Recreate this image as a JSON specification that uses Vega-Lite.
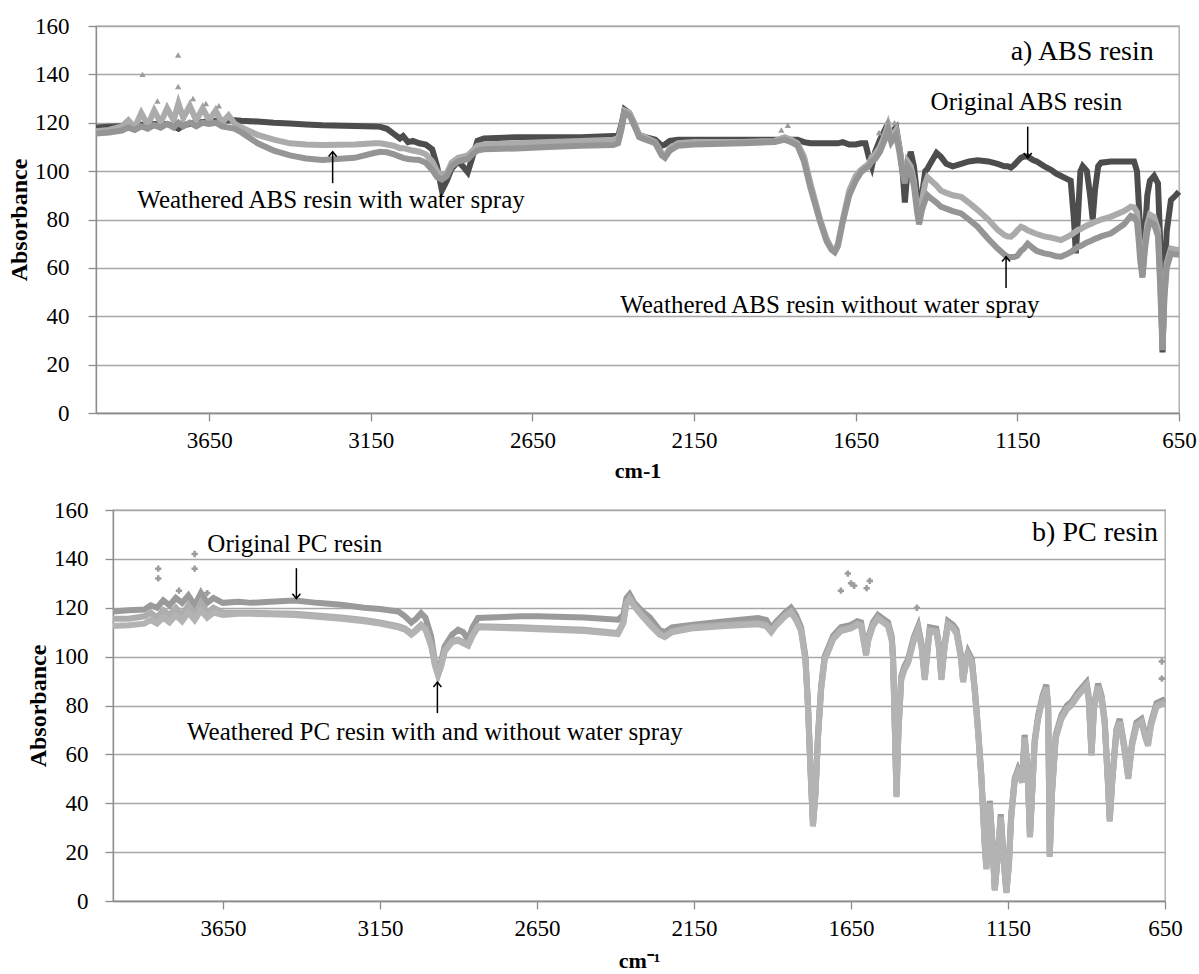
{
  "$schema": "https://vega.github.io/schema/vega-lite/v6.json",
  "padding": {"top": 14, "left": 6, "right": 2, "bottom": 2},
  "background": "white",
  "config": {
    "font": "Liberation Serif",
    "view": {"stroke": "#a6a6a6", "strokeWidth": 1.3},
    "axis": {
      "labelFont": "Liberation Serif", "labelFontSize": 23, "labelColor": "#000",
      "titleFont": "Liberation Serif", "titleFontSize": 24, "titleFontWeight": "bold", "titleColor": "#000",
      "domainColor": "#8c8c8c", "domainWidth": 1.3, "tickColor": "#8c8c8c", "tickWidth": 1.3, "tickSize": 8,
      "gridColor": "#a6a6a6", "gridWidth": 1.3
    }
  },
  "datasets": {
    "abs": [
      {"wn":4000,"Original":118,"With":116.5,"Without":115.5},
      {"wn":3960,"Original":118.3,"With":117,"Without":116},
      {"wn":3920,"Original":118.6,"With":118.5,"Without":116.8},
      {"wn":3900,"Original":118.8,"With":121,"Without":118},
      {"wn":3880,"Original":119,"With":118,"Without":117},
      {"wn":3860,"Original":119.2,"With":124,"Without":118.5},
      {"wn":3840,"Original":119.3,"With":119,"Without":117.5},
      {"wn":3820,"Original":119.5,"With":125,"Without":119},
      {"wn":3800,"Original":119.5,"With":120,"Without":118},
      {"wn":3780,"Original":119.5,"With":126,"Without":119.5},
      {"wn":3760,"Original":118.5,"With":121,"Without":118},
      {"wn":3745,"Original":117.5,"With":128,"Without":120},
      {"wn":3730,"Original":119,"With":122,"Without":118.5},
      {"wn":3710,"Original":119.5,"With":127,"Without":120},
      {"wn":3690,"Original":120,"With":121,"Without":118.5},
      {"wn":3670,"Original":120.3,"With":126,"Without":120},
      {"wn":3650,"Original":120.5,"With":121,"Without":119.5},
      {"wn":3630,"Original":120.8,"With":125,"Without":120},
      {"wn":3610,"Original":121,"With":120,"Without":118.5},
      {"wn":3590,"Original":121,"With":123,"Without":118},
      {"wn":3570,"Original":121,"With":119.5,"Without":117.5},
      {"wn":3550,"Original":120.8,"With":118,"Without":116},
      {"wn":3500,"Original":120.5,"With":115,"Without":111.5},
      {"wn":3450,"Original":120,"With":113,"Without":108.5},
      {"wn":3400,"Original":119.7,"With":111.5,"Without":106.5},
      {"wn":3350,"Original":119.3,"With":111,"Without":105.2},
      {"wn":3300,"Original":119,"With":110.8,"Without":104.6},
      {"wn":3200,"Original":118.7,"With":111,"Without":105.5},
      {"wn":3140,"Original":118.5,"With":111.5,"Without":107.5},
      {"wn":3120,"Original":118.3,"With":111.5,"Without":108},
      {"wn":3100,"Original":117.5,"With":111,"Without":107.8},
      {"wn":3080,"Original":115.5,"With":110.5,"Without":107},
      {"wn":3060,"Original":113.5,"With":109.5,"Without":106},
      {"wn":3050,"Original":114.5,"With":109.5,"Without":105.5},
      {"wn":3035,"Original":112,"With":109,"Without":105},
      {"wn":3020,"Original":112.5,"With":108.5,"Without":104.8},
      {"wn":3000,"Original":111.5,"With":108,"Without":104.6},
      {"wn":2980,"Original":111,"With":107,"Without":103.5},
      {"wn":2960,"Original":109,"With":104,"Without":100.5},
      {"wn":2945,"Original":102,"With":100,"Without":97.5},
      {"wn":2930,"Original":92,"With":98,"Without":96.5},
      {"wn":2915,"Original":96,"With":99,"Without":98},
      {"wn":2900,"Original":101,"With":103.5,"Without":102},
      {"wn":2880,"Original":104,"With":105.5,"Without":104},
      {"wn":2865,"Original":102,"With":106,"Without":104.5},
      {"wn":2850,"Original":99.5,"With":106.5,"Without":105},
      {"wn":2835,"Original":106,"With":108.5,"Without":107},
      {"wn":2820,"Original":112.5,"With":110.5,"Without":108.5},
      {"wn":2800,"Original":113.5,"With":111,"Without":109},
      {"wn":2700,"Original":114,"With":111.5,"Without":109.4},
      {"wn":2600,"Original":114,"With":112,"Without":110},
      {"wn":2500,"Original":114,"With":112.5,"Without":110.5},
      {"wn":2400,"Original":114.5,"With":113,"Without":110.8},
      {"wn":2385,"Original":114.5,"With":113.5,"Without":111.5},
      {"wn":2375,"Original":119,"With":118,"Without":117},
      {"wn":2365,"Original":125.5,"With":125,"Without":124},
      {"wn":2350,"Original":124,"With":124,"Without":123},
      {"wn":2335,"Original":119,"With":120,"Without":119},
      {"wn":2320,"Original":115,"With":115,"Without":114},
      {"wn":2300,"Original":114,"With":114,"Without":113},
      {"wn":2270,"Original":113,"With":112,"Without":111.5},
      {"wn":2250,"Original":110.5,"With":107.5,"Without":106.5},
      {"wn":2240,"Original":111,"With":106,"Without":105.5},
      {"wn":2225,"Original":112.5,"With":109.5,"Without":108.5},
      {"wn":2200,"Original":113,"With":111.5,"Without":110.5},
      {"wn":2150,"Original":113,"With":112,"Without":111},
      {"wn":2000,"Original":113,"With":112,"Without":111.5},
      {"wn":1900,"Original":113,"With":112.5,"Without":112},
      {"wn":1870,"Original":113,"With":114,"Without":113},
      {"wn":1850,"Original":113,"With":113,"Without":112},
      {"wn":1830,"Original":113,"With":111.5,"Without":110.5},
      {"wn":1810,"Original":112,"With":106,"Without":104},
      {"wn":1790,"Original":111.5,"With":95,"Without":93},
      {"wn":1760,"Original":111.5,"With":80,"Without":79},
      {"wn":1740,"Original":111.5,"With":72,"Without":71},
      {"wn":1725,"Original":111.5,"With":68,"Without":67.5},
      {"wn":1715,"Original":111.5,"With":67,"Without":66.5},
      {"wn":1705,"Original":111.5,"With":70,"Without":69},
      {"wn":1690,"Original":112,"With":80,"Without":79},
      {"wn":1670,"Original":111,"With":92,"Without":90},
      {"wn":1650,"Original":111,"With":98,"Without":96},
      {"wn":1634,"Original":111.5,"With":100.5,"Without":99.5},
      {"wn":1620,"Original":111.5,"With":102,"Without":101},
      {"wn":1610,"Original":106,"With":103,"Without":102},
      {"wn":1600,"Original":102,"With":106,"Without":104},
      {"wn":1590,"Original":108,"With":107,"Without":105},
      {"wn":1575,"Original":113,"With":110,"Without":108},
      {"wn":1560,"Original":117,"With":115,"Without":113},
      {"wn":1550,"Original":115,"With":119,"Without":117},
      {"wn":1540,"Original":116,"With":114,"Without":112},
      {"wn":1525,"Original":118,"With":117,"Without":115},
      {"wn":1515,"Original":110,"With":110,"Without":108},
      {"wn":1505,"Original":100,"With":101,"Without":99},
      {"wn":1498,"Original":87,"With":97,"Without":95},
      {"wn":1490,"Original":100,"With":104,"Without":102},
      {"wn":1480,"Original":108,"With":102,"Without":100},
      {"wn":1470,"Original":102,"With":96,"Without":94},
      {"wn":1460,"Original":90,"With":85,"Without":83},
      {"wn":1454,"Original":79,"With":79,"Without":78},
      {"wn":1445,"Original":90,"With":88,"Without":84},
      {"wn":1435,"Original":100,"With":95,"Without":88},
      {"wn":1428,"Original":101,"With":97.5,"Without":90},
      {"wn":1420,"Original":103,"With":96.5,"Without":89},
      {"wn":1400,"Original":107.5,"With":94,"Without":87},
      {"wn":1387,"Original":106,"With":92,"Without":85.3},
      {"wn":1370,"Original":103,"With":91,"Without":84.5},
      {"wn":1350,"Original":102,"With":90,"Without":83.5},
      {"wn":1324,"Original":103,"With":89.4,"Without":82.5},
      {"wn":1300,"Original":104,"With":87,"Without":80},
      {"wn":1273,"Original":104.5,"With":84,"Without":77},
      {"wn":1240,"Original":104,"With":80,"Without":72},
      {"wn":1211,"Original":103,"With":75.7,"Without":68},
      {"wn":1190,"Original":102,"With":73.5,"Without":65.5},
      {"wn":1180,"Original":102,"With":73,"Without":64.6},
      {"wn":1170,"Original":101.5,"With":72.9,"Without":64.5},
      {"wn":1160,"Original":102.5,"With":74,"Without":64.5},
      {"wn":1150,"Original":104,"With":75.5,"Without":65},
      {"wn":1139,"Original":105.5,"With":77,"Without":67},
      {"wn":1130,"Original":106,"With":76.5,"Without":68},
      {"wn":1118,"Original":106,"With":75.5,"Without":70},
      {"wn":1100,"Original":104.5,"With":74.5,"Without":68},
      {"wn":1090,"Original":104,"With":74,"Without":67},
      {"wn":1067,"Original":102,"With":73,"Without":66},
      {"wn":1046,"Original":100.5,"With":72.5,"Without":65.5},
      {"wn":1030,"Original":99,"With":72,"Without":64.8},
      {"wn":1015,"Original":98,"With":71.5,"Without":64.6},
      {"wn":1000,"Original":97,"With":72.5,"Without":65.5},
      {"wn":985,"Original":96,"With":73.5,"Without":66.5},
      {"wn":975,"Original":80,"With":74.5,"Without":67.5},
      {"wn":969,"Original":66,"With":75,"Without":68},
      {"wn":963,"Original":80,"With":75.7,"Without":68.8},
      {"wn":955,"Original":100,"With":76,"Without":69},
      {"wn":948,"Original":102,"With":76.5,"Without":69.5},
      {"wn":935,"Original":100,"With":77.5,"Without":70.5},
      {"wn":925,"Original":90,"With":78,"Without":71},
      {"wn":917,"Original":80,"With":78.5,"Without":71.5},
      {"wn":910,"Original":92,"With":79,"Without":72},
      {"wn":900,"Original":102,"With":79.5,"Without":72.5},
      {"wn":891,"Original":103.5,"With":80,"Without":73},
      {"wn":860,"Original":104,"With":81.2,"Without":74.3},
      {"wn":820,"Original":104,"With":83.5,"Without":78},
      {"wn":799,"Original":104,"With":85.3,"Without":81.5},
      {"wn":789,"Original":104,"With":85,"Without":81},
      {"wn":780,"Original":100,"With":83,"Without":79},
      {"wn":775,"Original":88,"With":75,"Without":72},
      {"wn":770,"Original":75,"With":66,"Without":63},
      {"wn":763,"Original":58,"With":57,"Without":56},
      {"wn":755,"Original":75,"With":70,"Without":68},
      {"wn":748,"Original":90,"With":78,"Without":75},
      {"wn":740,"Original":96,"With":82,"Without":79},
      {"wn":727,"Original":98,"With":81,"Without":78},
      {"wn":715,"Original":95,"With":76,"Without":73},
      {"wn":708,"Original":70,"With":55,"Without":52},
      {"wn":701,"Original":25,"With":28,"Without":26},
      {"wn":695,"Original":55,"With":50,"Without":48},
      {"wn":688,"Original":75,"With":62,"Without":60},
      {"wn":675,"Original":88,"With":68,"Without":66},
      {"wn":660,"Original":90,"With":67.5,"Without":65.5},
      {"wn":650,"Original":91.5,"With":67.5,"Without":65.5}
    ],
    "absSpikes": [
      {"wn":3856,"A":140},{"wn":3746,"A":148},{"wn":3746,"A":135},{"wn":3810,"A":129},
      {"wn":3700,"A":130},{"wn":3660,"A":128},{"wn":3620,"A":127},{"wn":1880,"A":117},
      {"wn":1860,"A":119},{"wn":1550,"A":121},{"wn":1530,"A":120},{"wn":1578,"A":116}
    ],
    "pc": [
      {"wn":4000,"Original":118.5,"With":115.5,"Without":112.5},
      {"wn":3950,"Original":119,"With":115.5,"Without":112.8},
      {"wn":3900,"Original":119.3,"With":116.5,"Without":113.5},
      {"wn":3880,"Original":121,"With":118,"Without":115},
      {"wn":3860,"Original":120,"With":116,"Without":113.5},
      {"wn":3840,"Original":123,"With":119,"Without":116},
      {"wn":3820,"Original":121,"With":117,"Without":114},
      {"wn":3800,"Original":124,"With":120,"Without":117},
      {"wn":3780,"Original":122,"With":117,"Without":114.5},
      {"wn":3760,"Original":125,"With":121,"Without":118},
      {"wn":3740,"Original":121,"With":117,"Without":115},
      {"wn":3720,"Original":126,"With":122,"Without":119},
      {"wn":3700,"Original":122,"With":118,"Without":116},
      {"wn":3680,"Original":124,"With":120,"Without":118},
      {"wn":3650,"Original":122,"With":118,"Without":117},
      {"wn":3600,"Original":122.5,"With":118,"Without":117.5},
      {"wn":3560,"Original":122,"With":118,"Without":117.5},
      {"wn":3500,"Original":122.5,"With":117.8,"Without":117.3},
      {"wn":3421,"Original":123,"With":117.5,"Without":117},
      {"wn":3350,"Original":122,"With":116.8,"Without":116.3},
      {"wn":3274,"Original":121.2,"With":116,"Without":115.5},
      {"wn":3200,"Original":120,"With":115,"Without":114.5},
      {"wn":3150,"Original":119.5,"With":114,"Without":113.5},
      {"wn":3092,"Original":118.5,"With":112.5,"Without":112},
      {"wn":3070,"Original":116.5,"With":111.5,"Without":111},
      {"wn":3050,"Original":114,"With":109.5,"Without":109},
      {"wn":3035,"Original":115.5,"With":111,"Without":110.5},
      {"wn":3019,"Original":117.8,"With":113,"Without":112.5},
      {"wn":3005,"Original":116,"With":111.5,"Without":111},
      {"wn":2987,"Original":108.4,"With":105,"Without":104.5},
      {"wn":2975,"Original":98,"With":97,"Without":96.5},
      {"wn":2965,"Original":93.3,"With":92.5,"Without":92.5},
      {"wn":2955,"Original":98,"With":96.5,"Without":96},
      {"wn":2944,"Original":104.2,"With":102.5,"Without":102},
      {"wn":2920,"Original":109,"With":106.5,"Without":106},
      {"wn":2901,"Original":111,"With":107,"Without":106.5},
      {"wn":2885,"Original":110,"With":106,"Without":105.5},
      {"wn":2869,"Original":107,"With":104.9,"Without":104.5},
      {"wn":2855,"Original":112,"With":109,"Without":108.5},
      {"wn":2838,"Original":115.8,"With":112.4,"Without":112},
      {"wn":2700,"Original":116.5,"With":112,"Without":111.5},
      {"wn":2647,"Original":116.5,"With":111.7,"Without":111.2},
      {"wn":2500,"Original":116,"With":111,"Without":110.5},
      {"wn":2392,"Original":115.1,"With":109.7,"Without":109.2},
      {"wn":2375,"Original":117,"With":114,"Without":113.5},
      {"wn":2365,"Original":124,"With":122,"Without":121.5},
      {"wn":2355,"Original":125.5,"With":124,"Without":123.5},
      {"wn":2340,"Original":122,"With":121,"Without":120.5},
      {"wn":2318,"Original":119,"With":117.5,"Without":117},
      {"wn":2290,"Original":116,"With":113.5,"Without":113},
      {"wn":2260,"Original":111,"With":109.5,"Without":109},
      {"wn":2243,"Original":110,"With":108.3,"Without":108},
      {"wn":2220,"Original":112,"With":110.5,"Without":110},
      {"wn":2159,"Original":113,"With":112,"Without":111.5},
      {"wn":2050,"Original":114.5,"With":113,"Without":112.5},
      {"wn":1946,"Original":115.8,"With":113.7,"Without":113.2},
      {"wn":1920,"Original":115,"With":113,"Without":112.5},
      {"wn":1904,"Original":111.5,"With":110.4,"Without":110},
      {"wn":1890,"Original":114,"With":113,"Without":112.5},
      {"wn":1860,"Original":118,"With":117,"Without":116.5},
      {"wn":1841,"Original":120,"With":118.5,"Without":118},
      {"wn":1825,"Original":117,"With":115.5,"Without":115},
      {"wn":1809,"Original":112,"With":111,"Without":110.5},
      {"wn":1795,"Original":100,"With":99,"Without":98.5},
      {"wn":1787,"Original":81,"With":80,"Without":79.5},
      {"wn":1779,"Original":55,"With":54,"Without":53.5},
      {"wn":1771,"Original":32,"With":31,"Without":30.5},
      {"wn":1763,"Original":45,"With":44,"Without":43.5},
      {"wn":1755,"Original":68,"With":67,"Without":66.5},
      {"wn":1745,"Original":88,"With":87,"Without":86.5},
      {"wn":1734,"Original":100,"With":99,"Without":98.5},
      {"wn":1707,"Original":108.5,"With":107.5,"Without":107},
      {"wn":1682,"Original":112,"With":111,"Without":110.5},
      {"wn":1650,"Original":113,"With":112,"Without":111.5},
      {"wn":1630,"Original":114.5,"With":113.5,"Without":113},
      {"wn":1618,"Original":114,"With":113,"Without":112.5},
      {"wn":1610,"Original":108,"With":107,"Without":106.5},
      {"wn":1602,"Original":102,"With":101,"Without":100.5},
      {"wn":1595,"Original":108,"With":107,"Without":106.5},
      {"wn":1580,"Original":114,"With":113,"Without":112.5},
      {"wn":1564,"Original":117,"With":116,"Without":115.5},
      {"wn":1548,"Original":115.5,"With":114.5,"Without":114},
      {"wn":1532,"Original":114,"With":113,"Without":112.5},
      {"wn":1520,"Original":108,"With":107,"Without":106.5},
      {"wn":1516,"Original":100,"With":99,"Without":98.5},
      {"wn":1510,"Original":70,"With":69,"Without":68.5},
      {"wn":1505,"Original":44,"With":43,"Without":42.5},
      {"wn":1499,"Original":70,"With":69,"Without":68.5},
      {"wn":1490,"Original":92,"With":91,"Without":90.5},
      {"wn":1480,"Original":96,"With":95,"Without":94.5},
      {"wn":1468,"Original":99,"With":98,"Without":97.5},
      {"wn":1450,"Original":108,"With":107,"Without":106.5},
      {"wn":1436,"Original":112.5,"With":111.5,"Without":111},
      {"wn":1425,"Original":105,"With":104,"Without":103.5},
      {"wn":1415,"Original":92,"With":91,"Without":90.5},
      {"wn":1405,"Original":105,"With":104,"Without":103.5},
      {"wn":1399,"Original":112,"With":111,"Without":110.5},
      {"wn":1378,"Original":111.5,"With":110.5,"Without":110},
      {"wn":1370,"Original":105,"With":104,"Without":103.5},
      {"wn":1362,"Original":92,"With":91,"Without":90.5},
      {"wn":1352,"Original":105,"With":104,"Without":103.5},
      {"wn":1341,"Original":114.5,"With":113.5,"Without":113},
      {"wn":1325,"Original":113,"With":112,"Without":111.5},
      {"wn":1314,"Original":111,"With":110,"Without":109.5},
      {"wn":1300,"Original":101,"With":100,"Without":99.5},
      {"wn":1293,"Original":91,"With":90,"Without":89.5},
      {"wn":1285,"Original":98,"With":97,"Without":96.5},
      {"wn":1277,"Original":102,"With":101,"Without":100.5},
      {"wn":1265,"Original":99,"With":98,"Without":97.5},
      {"wn":1255,"Original":86,"With":85,"Without":84.5},
      {"wn":1245,"Original":70,"With":69,"Without":68.5},
      {"wn":1235,"Original":52,"With":51,"Without":50.5},
      {"wn":1224,"Original":24,"With":23,"Without":22.5},
      {"wn":1219,"Original":14,"With":13.5,"Without":13},
      {"wn":1213,"Original":30,"With":29,"Without":28.5},
      {"wn":1208,"Original":41,"With":40,"Without":39.5},
      {"wn":1200,"Original":25,"With":24,"Without":23.5},
      {"wn":1192,"Original":5,"With":4.6,"Without":4.3},
      {"wn":1182,"Original":20,"With":19,"Without":18.5},
      {"wn":1173,"Original":35.5,"With":34.5,"Without":34},
      {"wn":1164,"Original":18,"With":17,"Without":16.5},
      {"wn":1155,"Original":4,"With":3.6,"Without":3.3},
      {"wn":1147,"Original":16,"With":15,"Without":14.5},
      {"wn":1140,"Original":35,"With":34,"Without":33.5},
      {"wn":1129,"Original":50,"With":49,"Without":48.5},
      {"wn":1118,"Original":54,"With":53,"Without":52.5},
      {"wn":1105,"Original":50,"With":49,"Without":48.5},
      {"wn":1097,"Original":68,"With":67,"Without":66.5},
      {"wn":1088,"Original":55,"With":54,"Without":53.5},
      {"wn":1080,"Original":27,"With":26.5,"Without":26},
      {"wn":1072,"Original":48,"With":47,"Without":46.5},
      {"wn":1065,"Original":66,"With":65,"Without":64.5},
      {"wn":1054,"Original":76,"With":75,"Without":74.5},
      {"wn":1040,"Original":84,"With":83,"Without":82.5},
      {"wn":1028,"Original":88.5,"With":87.5,"Without":87},
      {"wn":1022,"Original":80,"With":79,"Without":78.5},
      {"wn":1017,"Original":19,"With":18.5,"Without":18},
      {"wn":1010,"Original":45,"With":44,"Without":43.5},
      {"wn":998,"Original":68,"With":67,"Without":66.5},
      {"wn":980,"Original":76,"With":75,"Without":74.5},
      {"wn":962,"Original":80,"With":79,"Without":78.5},
      {"wn":948,"Original":81.5,"With":80.5,"Without":80},
      {"wn":927,"Original":85.5,"With":84.5,"Without":84},
      {"wn":900,"Original":89.5,"With":88.5,"Without":88},
      {"wn":893,"Original":84,"With":83,"Without":82.5},
      {"wn":884,"Original":61,"With":60,"Without":59.5},
      {"wn":876,"Original":80,"With":79,"Without":78.5},
      {"wn":863,"Original":89,"With":88,"Without":87.5},
      {"wn":852,"Original":84,"With":83,"Without":82.5},
      {"wn":842,"Original":74,"With":73,"Without":72.5},
      {"wn":832,"Original":50,"With":49,"Without":48.5},
      {"wn":826,"Original":34,"With":33,"Without":32.5},
      {"wn":818,"Original":50,"With":49,"Without":48.5},
      {"wn":805,"Original":70,"With":69,"Without":68.5},
      {"wn":794,"Original":74.5,"With":73.5,"Without":73},
      {"wn":780,"Original":64,"With":63,"Without":62.5},
      {"wn":767,"Original":51.5,"With":50.5,"Without":50},
      {"wn":755,"Original":65,"With":64,"Without":63.5},
      {"wn":741,"Original":73,"With":72,"Without":71.5},
      {"wn":725,"Original":74.5,"With":73.5,"Without":73},
      {"wn":712,"Original":68,"With":67,"Without":66.5},
      {"wn":704,"Original":65,"With":64,"Without":63.5},
      {"wn":695,"Original":73,"With":72,"Without":71.5},
      {"wn":677,"Original":81,"With":80,"Without":79.5},
      {"wn":660,"Original":82,"With":81,"Without":80.5},
      {"wn":650,"Original":82.5,"With":81.5,"Without":81}
    ],
    "pcSpikes": [
      {"wn":3856,"A":136},{"wn":3856,"A":132},{"wn":3740,"A":142},{"wn":3740,"A":136},
      {"wn":3790,"A":127},{"wn":3700,"A":126},{"wn":1682,"A":127},{"wn":1660,"A":134},
      {"wn":1650,"A":130},{"wn":1640,"A":129},{"wn":1590,"A":131},{"wn":1600,"A":128},
      {"wn":1440,"A":120},{"wn":660,"A":98},{"wn":660,"A":91}
    ]
  },
  "spacing": 17,
  "resolve": {"scale": {"color": "independent", "shape": "independent"}},
  "vconcat": [
    {
      "width": 1083,
      "height": 387,
      "layer": [
        {
          "data": {"name": "abs"},
          "transform": [{"fold": ["Original", "With", "Without"], "as": ["s", "A"]}],
          "mark": {"type": "line", "strokeWidth": 6},
          "encoding": {
            "x": {"field": "wn", "type": "quantitative",
                  "scale": {"domain": [650, 4000], "reverse": true, "nice": false, "zero": false},
                  "axis": {"title": "cm-1", "titleFontSize": 22, "values": [3650, 3150, 2650, 2150, 1650, 1150, 650], "format": "d", "grid": false, "labelPadding": 8, "titlePadding": 8, "labelFlush": false}},
            "y": {"field": "A", "type": "quantitative",
                  "scale": {"domain": [0, 160], "nice": false},
                  "axis": {"title": "Absorbance", "values": [0, 20, 40, 60, 80, 100, 120, 140, 160], "grid": true, "labelPadding": 19, "titlePadding": 3}},
            "color": {"field": "s", "type": "nominal",
                      "scale": {"domain": ["Original", "With", "Without"], "range": ["#4d4d4d", "#ababab", "#959595"]},
                      "legend": null}
          }
        },
        {
          "data": {"name": "absSpikes"},
          "mark": {"type": "point", "shape": "triangle-up", "filled": true, "size": 40, "color": "#9c9c9c", "opacity": 1},
          "encoding": {
            "x": {"field": "wn", "type": "quantitative"},
            "y": {"field": "A", "type": "quantitative"}
          }
        },
        {
          "data": {"values": [
            {"wn": 3268, "A": 95, "A2": 108},
            {"wn": 1118, "A": 118.4, "A2": 105.5},
            {"wn": 1185, "A": 51.7, "A2": 64.6}
          ]},
          "mark": {"type": "rule", "color": "#000", "strokeWidth": 1.5},
          "encoding": {
            "x": {"field": "wn", "type": "quantitative"},
            "y": {"field": "A", "type": "quantitative"},
            "y2": {"field": "A2"}
          }
        },
        {
          "data": {"values": [
            {"wn": 3268, "A2": 108, "dir": "up"},
            {"wn": 1118, "A2": 105.5, "dir": "down"},
            {"wn": 1185, "A2": 64.6, "dir": "up"}
          ]},
          "mark": {"type": "point", "filled": false, "stroke": "#000", "strokeWidth": 1.5, "size": 64, "opacity": 1},
          "encoding": {
            "x": {"field": "wn", "type": "quantitative"},
            "y": {"field": "A2", "type": "quantitative"},
            "shape": {"field": "dir", "type": "nominal",
                      "scale": {"domain": ["up", "down"], "range": ["M-1,1.2L0,0L1,1.2", "M-1,-1.2L0,0L1,-1.2"]},
                      "legend": null}
          }
        },
        {
          "data": {"values": [
            {"wn": 3273, "A": 84.7, "label": "Weathered ABS resin with water spray"},
            {"wn": 1122, "A": 125.3, "label": "Original ABS resin"},
            {"wn": 1730, "A": 41.3, "label": "Weathered ABS resin without water spray"}
          ]},
          "mark": {"type": "text", "font": "Liberation Serif", "fontSize": 25, "align": "center", "baseline": "alphabetic", "color": "#000"},
          "encoding": {
            "x": {"field": "wn", "type": "quantitative"},
            "y": {"field": "A", "type": "quantitative"},
            "text": {"field": "label"}
          }
        },
        {
          "data": {"values": [{"wn": 728, "A": 146, "label": "a) ABS resin"}]},
          "mark": {"type": "text", "font": "Liberation Serif", "fontSize": 28, "align": "right", "baseline": "alphabetic", "color": "#000"},
          "encoding": {
            "x": {"field": "wn", "type": "quantitative"},
            "y": {"field": "A", "type": "quantitative"},
            "text": {"field": "label"}
          }
        }
      ]
    },
    {
      "spacing": 0,
      "hconcat": [
        {
          "width": 1,
          "height": 391,
          "view": {"stroke": null},
          "data": {"values": [{"A": 0}, {"A": 160}]},
          "mark": {"type": "point", "opacity": 0},
          "encoding": {
            "y": {"field": "A", "type": "quantitative",
                  "scale": {"domain": [0, 160], "nice": false},
                  "axis": {"title": "Absorbance", "values": [0, 20, 40, 60, 80, 100, 120, 140, 160], "grid": false, "domain": false, "ticks": false, "offset": -3, "labelPadding": 11, "titlePadding": 3}}
          }
        },
        {
          "width": 1052,
          "height": 391,
          "layer": [
            {
              "data": {"name": "pc"},
              "transform": [{"fold": ["Original", "With", "Without"], "as": ["s", "A"]}],
              "mark": {"type": "line", "strokeWidth": 6},
              "encoding": {
                "x": {"field": "wn", "type": "quantitative",
                      "scale": {"domain": [650, 4000], "reverse": true, "nice": false, "zero": false},
                      "axis": {"title": "cm⁻¹", "titleFontSize": 22, "values": [3650, 3150, 2650, 2150, 1650, 1150, 650], "format": "d", "grid": false, "labelPadding": 8, "titlePadding": 10, "labelFlush": false}},
                "y": {"field": "A", "type": "quantitative",
                      "scale": {"domain": [0, 160], "nice": false},
                      "axis": {"title": null, "labels": false, "domain": true, "ticks": true, "values": [0, 20, 40, 60, 80, 100, 120, 140, 160], "grid": true}},
                "color": {"field": "s", "type": "nominal",
                          "scale": {"domain": ["Original", "With", "Without"], "range": ["#9a9a9a", "#adadad", "#b3b3b3"]},
                          "legend": null}
              }
            },
            {
              "data": {"name": "pcSpikes"},
              "mark": {"type": "point", "shape": "cross", "filled": true, "size": 40, "color": "#9c9c9c", "opacity": 1},
              "encoding": {
                "x": {"field": "wn", "type": "quantitative"},
                "y": {"field": "A", "type": "quantitative"}
              }
            },
            {
              "data": {"values": [
                {"wn": 3416, "A": 136.2, "A2": 123.8},
                {"wn": 2967, "A": 76.9, "A2": 89.5}
              ]},
              "mark": {"type": "rule", "color": "#000", "strokeWidth": 1.5},
              "encoding": {
                "x": {"field": "wn", "type": "quantitative"},
                "y": {"field": "A", "type": "quantitative"},
                "y2": {"field": "A2"}
              }
            },
            {
              "data": {"values": [
                {"wn": 3416, "A2": 123.8, "dir": "down"},
                {"wn": 2967, "A2": 89.5, "dir": "up"}
              ]},
              "mark": {"type": "point", "filled": false, "stroke": "#000", "strokeWidth": 1.5, "size": 64, "opacity": 1},
              "encoding": {
                "x": {"field": "wn", "type": "quantitative"},
                "y": {"field": "A2", "type": "quantitative"},
                "shape": {"field": "dir", "type": "nominal",
                          "scale": {"domain": ["up", "down"], "range": ["M-1,1.2L0,0L1,1.2", "M-1,-1.2L0,0L1,-1.2"]},
                          "legend": null}
              }
            },
            {
              "data": {"values": [
                {"wn": 3421, "A": 143, "label": "Original PC resin"},
                {"wn": 2975, "A": 66, "label": "Weathered PC resin with and without water spray"}
              ]},
              "mark": {"type": "text", "font": "Liberation Serif", "fontSize": 25, "align": "center", "baseline": "alphabetic", "color": "#000"},
              "encoding": {
                "x": {"field": "wn", "type": "quantitative"},
                "y": {"field": "A", "type": "quantitative"},
                "text": {"field": "label"}
              }
            },
            {
              "data": {"values": [{"wn": 672, "A": 147.3, "label": "b) PC resin"}]},
              "mark": {"type": "text", "font": "Liberation Serif", "fontSize": 28, "align": "right", "baseline": "alphabetic", "color": "#000"},
              "encoding": {
                "x": {"field": "wn", "type": "quantitative"},
                "y": {"field": "A", "type": "quantitative"},
                "text": {"field": "label"}
              }
            }
          ]
        }
      ]
    }
  ]
}
